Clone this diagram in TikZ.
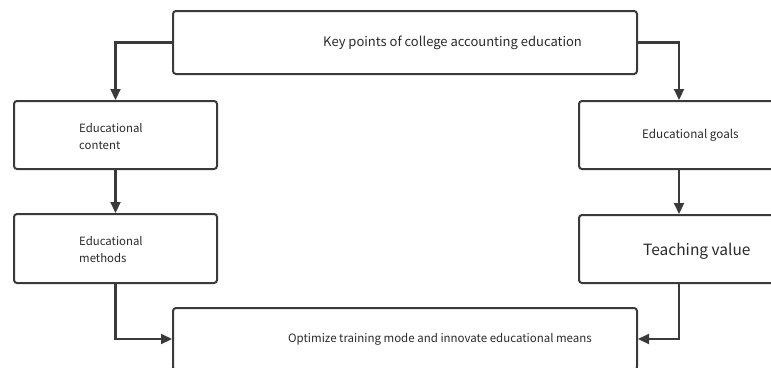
\documentclass[tikz,border=0pt]{standalone}
\usepackage{fontspec}
\setmainfont{Noto Sans CJK SC}
\usetikzlibrary{arrows.meta}
\definecolor{ln}{HTML}{3A3A3A}
\definecolor{tx}{HTML}{2A2A2A}
\tikzset{
  box/.style={draw=ln, line width=2pt, rounded corners=3pt, minimum width=#1, inner sep=0pt},
  conn/.style={draw=ln, line width=2.2pt, -{Triangle[length=11pt,width=10pt]}},
  lbl/.style={text=tx, inner sep=0pt},
}
\begin{document}
\begin{tikzpicture}[x=1pt,y=-1pt]
\useasboundingbox (0,0) rectangle (771,367);
\node[box=464pt, minimum height=63pt] (top) at (405,42.5) {};
\node[box=203pt, minimum height=68pt] (l1) at (115.5,135) {};
\node[box=203pt, minimum height=69pt] (l2) at (115.5,248.5) {};
\node[box=200pt, minimum height=68pt] (r1) at (679,135) {};
\node[box=200pt, minimum height=68pt] (r2) at (679,249) {};
\node[box=464pt, minimum height=62pt] (bot) at (405,339) {};
\node[lbl, anchor=west, font=\fontsize{13}{14}\selectfont] (ttop) at (323,43) {Key points of college accounting education};
\node[lbl, anchor=west, align=left, font=\fontsize{11.4}{17}\selectfont] (tl1) at (79,137) {Educational\\content};
\node[lbl, anchor=west, align=left, font=\fontsize{11.4}{17}\selectfont] (tl2) at (79,250) {Educational\\methods};
\node[lbl, anchor=west, font=\fontsize{11.7}{14}\selectfont] (tr1) at (642,135) {Educational goals};
\node[lbl, anchor=west, font=\fontsize{15.5}{16}\selectfont] (tr2) at (643,251) {Teaching value};
\node[lbl, anchor=west, font=\fontsize{11.5}{14}\selectfont] (tbot) at (288,339) {Optimize training mode and innovate educational means};
\draw[conn] (top.west) -| (l1.north);
\draw[conn] (l1.south) -- (l2.north);
\draw[conn] (l2.south) |- (bot.west);
\draw[conn] (top.east) -| (r1.north);
\draw[conn] (r1.south) -- (r2.north);
\draw[conn] (r2.south) |- (bot.east);
\end{tikzpicture}
\end{document}
